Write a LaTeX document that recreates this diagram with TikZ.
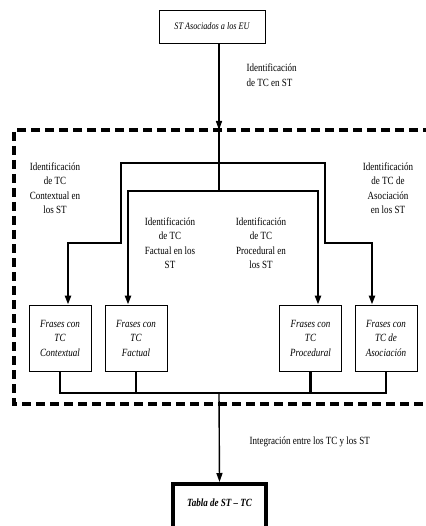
\documentclass[tikz,border=0pt]{standalone}
\usepackage{fontspec}
\setmainfont{Liberation Serif}[FakeStretch=0.82]
\usetikzlibrary{arrows.meta}

\begin{document}
\begin{tikzpicture}[x=1pt, y=-1pt,
        frase/.style={draw, line width=0.8pt, minimum width=62pt, minimum height=66pt, inner sep=0pt, align=center, font=\fontsize{11}{14.5}\selectfont\itshape},
        lbl/.style={align=center, font=\fontsize{11}{14.5}\selectfont},
        branch/.style={line width=2.5pt},
        tip/.style={-{Triangle[length=9pt, width=6pt]}}]
        \useasboundingbox (0,0) rectangle (425,526);

        \node [draw, line width=0.8pt, minimum width=106pt, minimum height=33pt, font=\fontsize{10}{12}\selectfont\itshape] (eu) at (212,26.5) {ST Asociados a los EU};

        \node [frase] (c1) at (60,338) {Frases con\\TC\\Contextual};
        \node [frase] (c2) at (136,338) {Frases con\\TC\\Factual};
        \node [frase] (c3) at (310.5,338) {Frases con\\TC\\Procedural};
        \node [frase] (c4) at (386,338) {Frases con\\TC de\\Asociación};

        \node [draw, line width=3.5pt, minimum width=93pt, anchor=north, text height=17pt, text depth=30pt, inner ysep=6pt, font=\fontsize{11}{13}\selectfont\bfseries\itshape] (tabla) at (219.5,482) {Tabla de ST -- TC};

        \node [lbl, anchor=west, align=left] (lid) at (243,75) {Identificación\\de TC en ST};
        \node [lbl] (lctx) at (55,188) {Identificación\\de TC\\Contextual en\\los ST};
        \node [lbl] (lasc) at (388,188) {Identificación\\de TC de\\Asociación\\en los ST};
        \node [lbl] (lfac) at (170,243) {Identificación\\de TC\\Factual en los\\ST};
        \node [lbl] (lpro) at (261,243) {Identificación\\de TC\\Procedural en\\los ST};
        \node [lbl, anchor=west] (lint) at (246,442) {Integración entre los TC y los ST};

        % junctions
        \coordinate (in) at (219,130);
        \coordinate (s1) at (219,163);
        \coordinate (s2) at (219,191);
        \coordinate (uL) at (121,163);
        \coordinate (uR) at (325,163);
        \coordinate (kL) at (121,243);
        \coordinate (kR) at (325,243);
        \coordinate (a1) at (68,243);
        \coordinate (a4) at (372,243);
        \coordinate (a2) at (128,191);
        \coordinate (a3) at (318,191);
        \coordinate (bus) at (219,393);

        % dashed frame
        \coordinate (fTR) at (432,130);
        \coordinate (fBL) at (14,404);
        \coordinate (fBR) at (432,404);
        \draw [line width=3.2pt, dash pattern=on 9pt off 5pt] (fTR) -| (fBL) -- (fBR);

        \draw [tip, line width=1.4pt] (eu.south -| in) -- (in);
        \draw [line width=1.8pt] (in) -- (s2);

        \draw [branch, tip] (s1) -- (uL) -- (kL) -- (a1) -- (a1 |- c1.north);
        \draw [branch, tip] (s1) -- (uR) -- (kR) -- (a4) -- (a4 |- c4.north);
        \draw [branch, tip] (s2) -- (a2) -- (a2 |- c2.north);
        \draw [branch, tip] (s2) -- (a3) -- (a3 |- c3.north);

        \draw [branch] (c1.south) -- (c1.south |- bus) -- (c4.south |- bus) -- (c4.south);
        \draw [branch] (c2.south) -- (c2.south |- bus);
        \draw [branch] (c3.south) -- (c3.south |- bus);
        \draw [tip, line width=1.4pt] (bus) -- (tabla.north);
\end{tikzpicture}
\end{document}
